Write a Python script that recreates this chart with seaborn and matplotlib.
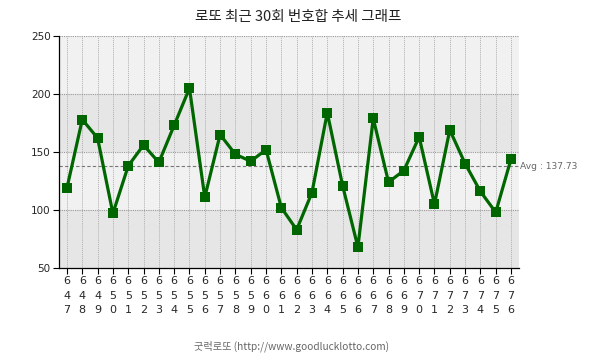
import matplotlib
matplotlib.use("Agg")
import matplotlib.pyplot as plt
import seaborn as sns
import pandas as pd

rounds = list(range(647, 677))
sums = [119, 178, 162, 97, 138, 156, 141, 173, 205, 111,
        165, 148, 142, 152, 102, 83, 115, 184, 121, 68,
        179, 124, 134, 163, 105, 169, 140, 116, 98, 144]
avg = 137.73
title = "로또 최근 30회 번호합 추세 그래프"
footer = "굿럭로또 (http://www.goodlucklotto.com)"
yticks = [50, 100, 150, 200, 250]

sns.set_style("white")
plt.rcParams['font.family'] = ['Noto Sans CJK KR', 'DejaVu Sans']

df = pd.DataFrame({"idx": range(len(rounds)), "sum": sums})

fig = plt.figure(figsize=(6.05, 3.59), dpi=100)
ax = fig.add_axes([59/605, 91/359, 460/605, 232/359])

# background bands
band_colors = ["#e6e6e6", "#f1f1f1", "#e6e6e6", "#f1f1f1"]
for i, c in enumerate(band_colors):
    ax.axhspan(yticks[i], yticks[i+1], color=c, zorder=0, lw=0)

ax.set_xlim(-0.52, len(rounds) - 0.48)
ax.set_ylim(50, 250)

for i in range(len(rounds)):
    ax.axvline(i, color="#b0b0b0", lw=0.7, ls=(0, (1, 1)), zorder=1)
ax.axvline(len(rounds) - 0.48, color="#b0b0b0", lw=0.7, ls=(0, (1, 1)), zorder=1)
for y in yticks[1:]:
    ax.axhline(y, color="#999999", lw=0.8, ls=(0, (1, 1)), zorder=1)

sns.lineplot(data=df, x="idx", y="sum", ax=ax, color="#006600", lw=2.3,
             marker="s", markersize=7.2, markeredgewidth=0, zorder=3)

ax.plot([-0.52, len(rounds) - 0.48], [avg, avg], color="#777777", lw=0.8,
        ls=(0, (3, 2)), zorder=2, clip_on=False)
ax.text(len(rounds) - 0.4, avg, f"Avg : {avg:.2f}", color="#666666",
        fontsize=6.6, va="center", ha="left", family=['DejaVu Sans'])

ax.set_xticks(range(len(rounds)))
ax.set_xticklabels(["\n".join(str(r)) for r in rounds], fontsize=8,
                   linespacing=1.55, family=['DejaVu Sans'])
ax.set_yticks(yticks)
ax.set_yticklabels([str(y) for y in yticks], fontsize=7.5, family=['DejaVu Sans'])
ax.tick_params(axis="both", direction="out", length=4, width=0.8, color="black",
               pad=2, left=True, bottom=True)
ax.set_xlabel("")
ax.set_ylabel("")

for s in ["top", "right"]:
    ax.spines[s].set_visible(False)
for s in ["left", "bottom"]:
    ax.spines[s].set_color("black")
    ax.spines[s].set_linewidth(0.9)

fig.text(298/605, 1 - 17/359, title, ha="center", va="center", fontsize=10.5,
         color="#222222")
fig.text(292/605, 1 - 346/359, footer, ha="center", va="center", fontsize=7.3,
         color="#666666")

fig.savefig("out.png", dpi=100, facecolor="white")
